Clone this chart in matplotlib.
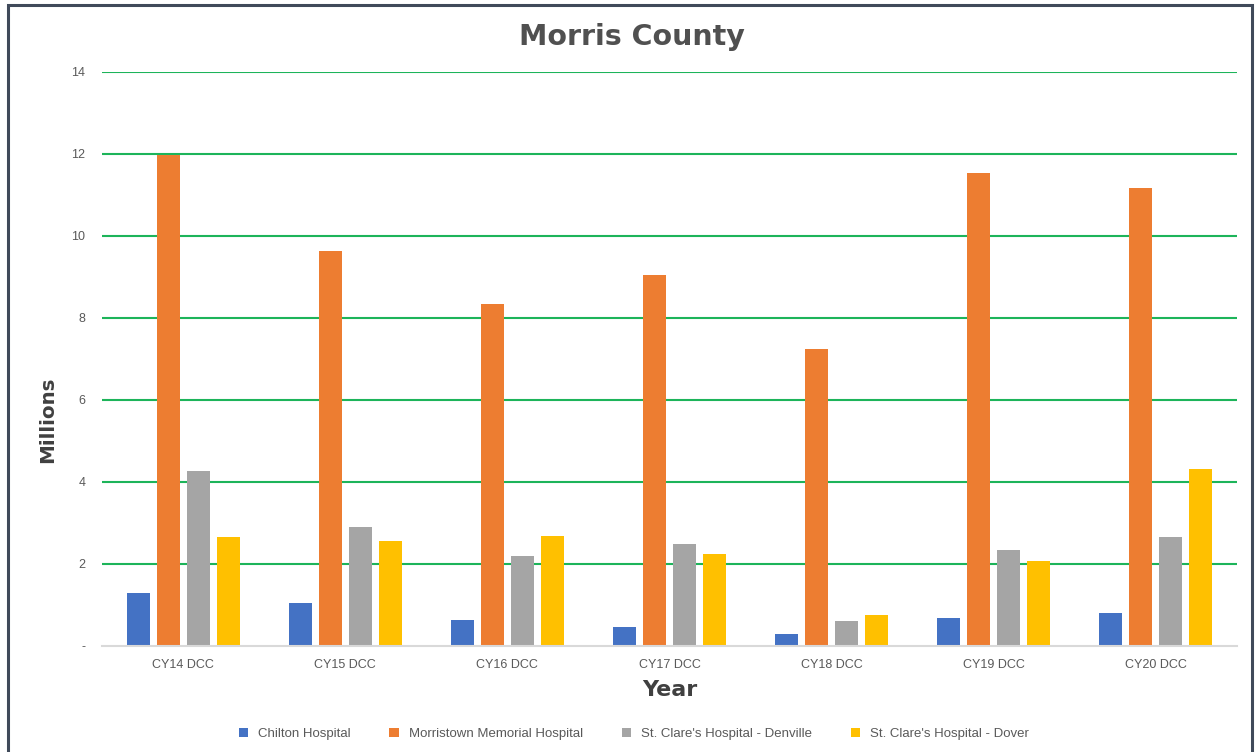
import matplotlib
matplotlib.use("Agg")
import matplotlib.pyplot as plt
import numpy as np
from matplotlib.patches import Rectangle

categories = ["CY14 DCC", "CY15 DCC", "CY16 DCC", "CY17 DCC", "CY18 DCC", "CY19 DCC", "CY20 DCC"]
chilton = [1.29, 1.05, 0.63, 0.46, 0.29, 0.68, 0.80]
morristown = [11.98, 9.63, 8.34, 9.05, 7.24, 11.54, 11.18]
denville = [4.27, 2.90, 2.20, 2.49, 0.61, 2.34, 2.66]
dover = [2.66, 2.56, 2.68, 2.24, 0.76, 2.07, 4.32]
series_names = ["Chilton Hospital", "Morristown Memorial Hospital",
                "St. Clare's Hospital - Denville", "St. Clare's Hospital - Dover"]
colors = ["#4472C4", "#ED7D31", "#A5A5A5", "#FFC000"]
yticks = [0, 2, 4, 6, 8, 10, 12, 14]
ytick_labels = ["-", "2", "4", "6", "8", "10", "12", "14"]

plt.rcParams['font.family'] = ['Liberation Sans', 'DejaVu Sans']

fig = plt.figure(figsize=(12.55, 7.52), dpi=100)
ax = fig.add_axes([102/1255, 106/752, 1135/1255, 574/752])

x = np.arange(len(categories))
pitch = 30/162
width = 23/162
all_series = [chilton, morristown, denville, dover]
for i, (vals, c, name) in enumerate(zip(all_series, colors, series_names)):
    ax.bar(x + (i - 1.5) * pitch, vals, width=width, color=c, label=name, zorder=3)

ax.set_xlim(-0.5, len(categories) - 0.5)
ax.set_ylim(0, 14)
ax.set_yticks(yticks)
ax.set_yticklabels(ytick_labels, color="#595959", fontsize=9)
ax.set_xticks(x)
ax.set_xticklabels(categories, color="#595959", fontsize=9)
ax.tick_params(axis='both', length=0, pad=12)
ax.tick_params(axis='x', pad=9)

for y in yticks[1:]:
    ax.axhline(y, color="#1DB45A", lw=1.5, zorder=1)

for s in ["top", "right", "left"]:
    ax.spines[s].set_visible(False)
ax.spines["bottom"].set_color("#D9D9D9")
ax.spines["bottom"].set_linewidth(1.5)
ax.spines["bottom"].set_zorder(4)

fig.text(632/1255, 1 - 37/752, "Morris County", ha="center", va="center",
         fontsize=20.5, fontweight="heavy", color="#505050",
         family=["DejaVu Sans"])
fig.text(48/1255, 1 - 420/752, "Millions", ha="center", va="center", rotation=90,
         fontsize=14.3, fontweight="bold", color="#404040",
         family=["DejaVu Sans"])
fig.text(670/1255, 1 - 690/752, "Year", ha="center", va="center",
         fontsize=16, fontweight="bold", color="#404040",
         family=["DejaVu Sans"])

leg = fig.legend(loc="center", bbox_to_anchor=(634/1255, 1 - 734/752), ncol=4,
                 frameon=False, fontsize=9.5, handlelength=0.7, handleheight=0.7,
                 columnspacing=2.9, handletextpad=0.8)
for t in leg.get_texts():
    t.set_color("#595959")

# outer frame
fig.add_artist(Rectangle((8/1255, -0.01), (1252 - 8)/1255, 1 - 5/752 + 0.01,
                         transform=fig.transFigure, fill=False,
                         edgecolor="#404a5a", lw=2.2))

fig.savefig("out.png", dpi=100)
